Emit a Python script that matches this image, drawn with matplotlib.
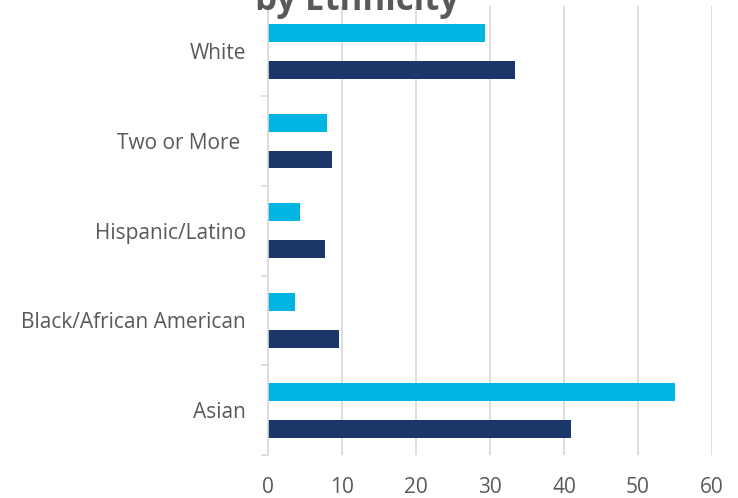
import numpy as np
import matplotlib.pyplot as plt
from matplotlib.ticker import FixedLocator

categories = ['Asian', 'Black/African American', 'Hispanic/Latino', 'Two or More ', 'White']
series_light = [55.0, 3.7, 4.3, 8.0, 29.3]
series_dark = [40.9, 9.6, 7.7, 8.6, 33.4]

plt.rcParams['font.family'] = ['Open Sans', 'DejaVu Sans']

fig = plt.figure(figsize=(7.38, 4.98), dpi=100)
ax = fig.add_axes([268 / 738, 1 - 455 / 498, 444 / 738, 448.5 / 498])

y = np.arange(len(categories))
h = 0.2
ax.barh(y + 0.206, series_light, height=h, color='#00B5E2')
ax.barh(y - 0.206, series_dark, height=h, color='#1B3668')

ax.set_xlim(0, 60)
ax.set_ylim(-0.5, len(categories) - 0.5)
ax.set_xticks(range(0, 61, 10))
ax.set_yticks(y)
ax.set_yticklabels(categories)
ax.yaxis.set_minor_locator(FixedLocator(np.arange(-0.5, len(categories), 1.0)))

ax.grid(axis='x', color='#D9D9D9', linewidth=1.2)
ax.set_axisbelow(True)
for s in ['top', 'right', 'bottom']:
    ax.spines[s].set_visible(False)
ax.spines['left'].set_color('#D9D9D9')
ax.spines['left'].set_linewidth(1.2)

ax.tick_params(axis='y', which='major', length=0, pad=16, labelsize=15, labelcolor='#595959')
ax.tick_params(axis='y', which='minor', length=5, color='#D9D9D9', width=1.2)
ax.tick_params(axis='x', length=0, pad=16, labelsize=15, labelcolor='#595959')

fig.text(357 / 738, 1 - 10 / 498, 'by Ethnicity', ha='center', va='baseline',
         fontsize=25, fontweight='bold', color='#595959')

plt.savefig('out.png', dpi=100)
